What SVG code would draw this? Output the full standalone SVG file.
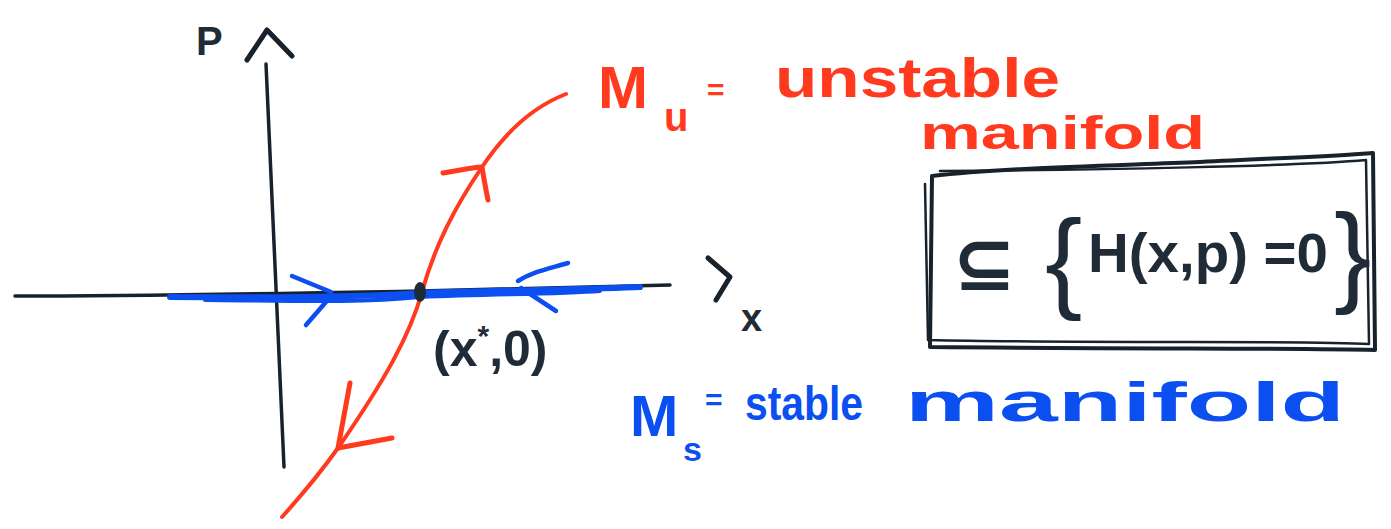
<svg xmlns="http://www.w3.org/2000/svg" width="1391" height="529" viewBox="0 0 1391 529">
<style>
.ink{fill:none;stroke:#17222c;stroke-linecap:round;stroke-linejoin:round}
.red{fill:none;stroke:#ff3a1e;stroke-linecap:round;stroke-linejoin:round}
.blue{fill:none;stroke:#0b4ff0;stroke-linecap:round;stroke-linejoin:round}
.t{font-family:"Liberation Sans","DejaVu Sans",sans-serif;font-weight:bold}
.n{font-weight:normal}
.tk{fill:#1f2b36}
.tr{fill:#ff3a1e}
.tb{fill:#0b4ff0}
</style>
<rect width="1391" height="529" fill="#ffffff"/>
<g id="axes">
  <path class="ink" stroke-width="3.5" d="M266,64 C270,160 276,300 284,467"/>
  <path class="ink" stroke-width="5" d="M247,60 L267,30 L292,56"/>
  <path class="ink" stroke-width="3.5" d="M15,296 C150,296 300,293 420,291 C520,289 600,287 670,285"/>
  <path class="ink" stroke-width="5" d="M708,258 L730,277 L716,300"/>
  <text class="t tk" x="196" y="55" font-size="40">P</text>
  <text class="t tk" x="741" y="331" font-size="38">x</text>
</g>
<g id="stable-manifold">
  <path class="blue" stroke-width="6" d="M170,297 C300,298 380,296 420,293 C520,290 600,289 640,287"/>
  <path class="blue" stroke-width="4" d="M205,300 C300,301 360,303 420,297 C500,294 560,294 600,291"/>
  <path class="blue" stroke-width="4.5" d="M292,276 L331,292 M306,325 L332,295"/>
  <path class="blue" stroke-width="4.5" d="M568,263 C548,269 532,272 518,281 M521,288 L556,311"/>
</g>
<g id="unstable-manifold">
  <path class="red" stroke-width="4" d="M566,94 C540,104 510,125 482,167 C455,207 435,245 422,292 C410,335 385,380 338,448 C318,476 300,497 282,517"/>
  <path class="red" stroke-width="5" d="M443,173 C460,170 470,168 482,167 C484,180 486,190 488,200"/>
  <path class="red" stroke-width="5" d="M350,383 L338,448 L392,438"/>
</g>
<g id="fixed-point">
  <ellipse cx="420" cy="292" rx="6" ry="10" fill="#1f2b36"/>
  <text class="t tk" x="433" y="366" font-size="50">(x<tspan dy="-20" font-size="30">*</tspan><tspan dy="20">,0)</tspan></text>
</g>
<g id="label-unstable">
  <text class="t tr" x="598" y="108" font-size="60">M</text>
  <text class="t tr" x="664" y="131" font-size="40">u</text>
  <text class="t tr" x="707" y="100" font-size="30">=</text>
  <text class="t tr" x="775" y="97" font-size="56" textLength="285" lengthAdjust="spacingAndGlyphs">unstable</text>
  <text class="t tr" x="920" y="149" font-size="46" textLength="285" lengthAdjust="spacingAndGlyphs">manifold</text>
</g>
<g id="label-stable">
  <text class="t tb" x="630" y="436" font-size="58">M</text>
  <text class="t tb" x="683" y="461" font-size="34">s</text>
  <text class="t tb" x="705" y="410" font-size="30">=</text>
  <text class="t tb" x="745" y="420" font-size="48" textLength="118" lengthAdjust="spacingAndGlyphs">stable</text>
  <text class="t tb" x="905" y="421" font-size="56" textLength="440" lengthAdjust="spacingAndGlyphs">manifold</text>
</g>
<g id="constraint-box">
  <path class="ink" stroke-width="4" d="M932,176 C1000,168 1100,166 1200,162 C1280,158 1340,156 1373,153 L1375,350 C1300,348 1150,349 930,347 Z"/>
  <path class="ink" stroke-width="2.5" d="M925,184 L928,340 C1100,344 1300,340 1369,344 L1366,160 C1300,166 1100,170 940,171"/>
  <text class="t tk" x="952" y="290" font-size="76">⊆</text>
  <text class="t tk n" x="1045" y="298" font-size="112">{</text>
  <text class="t tk" x="1088" y="272" font-size="56" textLength="240" lengthAdjust="spacingAndGlyphs">H(x,p) =0</text>
  <text class="t tk n" x="1334" y="292" font-size="112">}</text>
</g>
</svg>
